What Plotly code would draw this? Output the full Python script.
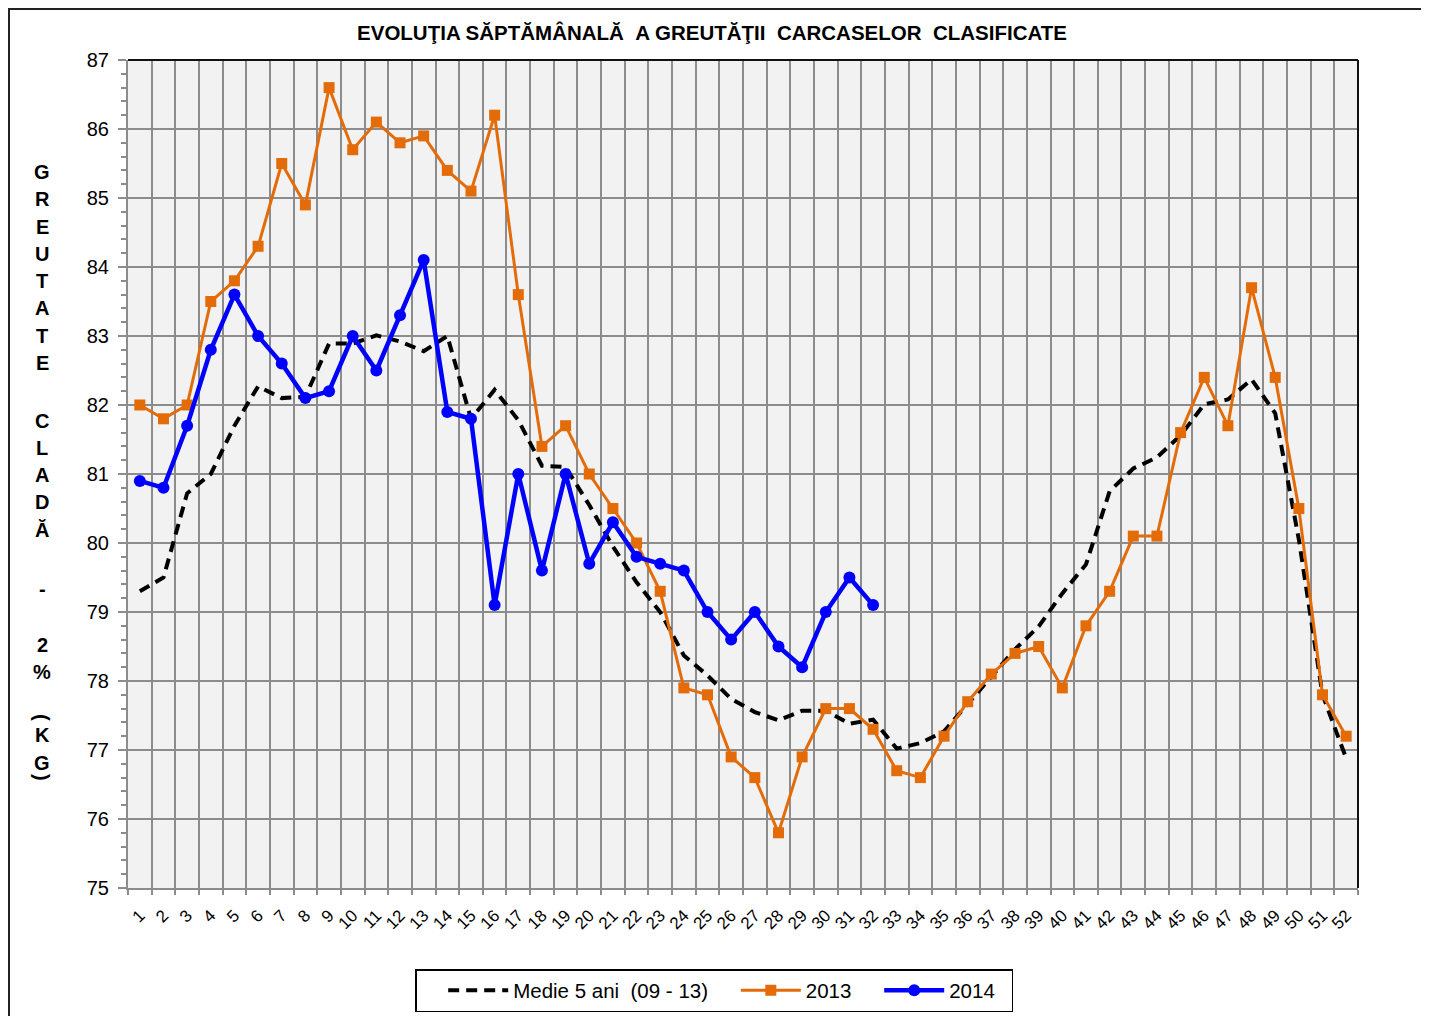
import plotly.graph_objects as go

weeks = list(range(1, 53))
week_labels = [str(w) for w in weeks]

medie = [79.3, 79.5, 80.72, 81.0, 81.7, 82.27, 82.1, 82.12, 82.89, 82.89,
         83.01, 82.92, 82.78, 83.0, 81.8, 82.22, 81.78, 81.12, 81.1, 80.55,
         79.95, 79.43, 79.0, 78.37, 78.08, 77.74, 77.55, 77.43, 77.57, 77.57,
         77.38, 77.44, 77.02, 77.1, 77.27, 77.66, 78.05, 78.46, 78.79, 79.27,
         79.69, 80.75, 81.08, 81.24, 81.56, 82.01, 82.08, 82.37, 81.88, 80.05,
         77.8, 76.88]

y2013 = [82.0, 81.8, 82.0, 83.5, 83.8, 84.3, 85.5, 84.9, 86.6, 85.7,
         86.1, 85.8, 85.9, 85.4, 85.1, 86.2, 83.6, 81.4, 81.7, 81.0,
         80.5, 80.0, 79.3, 77.9, 77.8, 76.9, 76.6, 75.8, 76.9, 77.6,
         77.6, 77.3, 76.7, 76.6, 77.2, 77.7, 78.1, 78.4, 78.5, 77.9,
         78.8, 79.3, 80.1, 80.1, 81.6, 82.4, 81.7, 83.7, 82.4, 80.5,
         77.8, 77.2]

y2014 = [80.9, 80.8, 81.7, 82.8, 83.6, 83.0, 82.6, 82.1, 82.2, 83.0,
         82.5, 83.3, 84.1, 81.9, 81.8, 79.1, 81.0, 79.6, 81.0, 79.7,
         80.3, 79.8, 79.7, 79.6, 79.0, 78.6, 79.0, 78.5, 78.2, 79.0,
         79.5, 79.1]

series_names = ["Medie 5 ani\u00a0\u00a0(09 - 13)", "2013", "2014"]

title_text = "EVOLUŢIA SĂPTĂMÂNALĂ\u00a0\u00a0A GREUTĂŢII\u00a0\u00a0CARCASELOR\u00a0\u00a0CLASIFICATE"
ylabel_chars = [("G", 172), ("R", 199), ("E", 227), ("U", 254), ("T", 281), ("A", 308),
                ("T", 336), ("E", 363), ("C", 421), ("L", 448), ("A", 475), ("D", 502),
                ("Ă", 530), ("-", 589), ("2", 645), ("%", 672), ("K", 735), ("G", 763)]
ylabel_parens = [("(", 717), (")", 777)]

FONT = "Liberation Sans, Arial, sans-serif"
ORANGE = "#E36C09"
BLUE = "#0000FF"
GRID = "#8C8C8C"

# page offset (body margin) compensation
OFF = 8
PAGE_W, PAGE_H = 1429, 1016
FIG_W, FIG_H = PAGE_W - OFF, PAGE_H - OFF

# plot area in page pixels
L, R, T, B = 128, 1358, 60, 888
W, H = R - L, B - T

def px(x):
    return (x - L) / W

def py(y):
    return (B - y) / H

PAD = "\u00a0" * 4

fig = go.Figure()
fig.add_trace(go.Scatter(
    x=weeks, y=medie, mode="lines", name=series_names[0] + PAD,
    line=dict(color="black", width=4, dash="11px,7px")))
fig.add_trace(go.Scatter(
    x=weeks, y=y2013, mode="lines+markers", name=series_names[1] + PAD,
    line=dict(color=ORANGE, width=3),
    marker=dict(symbol="square", size=11, color=ORANGE)))
fig.add_trace(go.Scatter(
    x=weeks[:len(y2014)], y=y2014, mode="lines+markers", name=series_names[2] + "\u00a0\u00a0",
    line=dict(color=BLUE, width=4.5),
    marker=dict(symbol="circle", size=12, color=BLUE)))

annotations = []
for ch, yy in ylabel_chars:
    annotations.append(dict(text="<b>%s</b>" % ch, x=px(42), y=py(yy), xref="paper", yref="paper",
                            showarrow=False, font=dict(family=FONT, size=20, color="black"),
                            xanchor="center", yanchor="middle"))
for ch, yy in ylabel_parens:
    annotations.append(dict(text="<b>%s</b>" % ch, x=px(42), y=py(yy), xref="paper", yref="paper",
                            showarrow=False, textangle=90, font=dict(family=FONT, size=20, color="black"),
                            xanchor="center", yanchor="middle"))

shapes = [
    dict(type="rect", xref="paper", yref="paper", x0=px(9), x1=px(1422), y0=py(1040), y1=py(9),
         line=dict(color="#222", width=2), fillcolor="rgba(0,0,0,0)", layer="below"),
    dict(type="line", xref="paper", yref="paper", x0=0, x1=1, y0=1, y1=1,
         line=dict(color="#111", width=2)),
    dict(type="line", xref="paper", yref="paper", x0=1, x1=1, y0=0, y1=1,
         line=dict(color="#111", width=2)),
]

fig.update_layout(
    width=FIG_W, height=FIG_H,
    margin=dict(l=L - OFF, r=PAGE_W - R, t=T - OFF, b=PAGE_H - B, autoexpand=False),
    paper_bgcolor="white", plot_bgcolor="#F2F2F2",
    font=dict(family=FONT, color="black"),
    title=dict(text="<b>%s</b>" % title_text, x=(712 - OFF) / FIG_W, xanchor="center",
               y=1 - (33 - OFF) / FIG_H, yanchor="middle",
               font=dict(family=FONT, size=20.5, color="black")),
    showlegend=True,
    legend=dict(orientation="h", x=px(714), xanchor="center", y=py(969), yanchor="top",
                bordercolor="black", borderwidth=1.5, bgcolor="white",
                font=dict(family=FONT, size=20.5, color="black"),
                title=dict(text="\u00a0\u00a0\u00a0", side="left", font=dict(size=20)),
                itemwidth=60, traceorder="normal"),
    annotations=annotations,
    shapes=shapes,
    xaxis=dict(range=[0.5, 52.5], tickmode="array", tickvals=weeks, ticktext=week_labels,
               tickangle=-45, ticks="", showgrid=False, zeroline=False, automargin=False,
               ticklabelstandoff=9,
               tickfont=dict(family=FONT, size=17, color="black"),
               showline=True, linecolor=GRID, linewidth=2,
               minor=dict(tickmode="linear", tick0=0.5, dtick=1, showgrid=True,
                          gridcolor=GRID, gridwidth=2, ticks="outside", ticklen=5,
                          tickcolor=GRID, tickwidth=2)),
    yaxis=dict(range=[75, 87], tickmode="linear", tick0=75, dtick=1, automargin=False,
               showgrid=True, gridcolor=GRID, gridwidth=2, zeroline=False,
               ticks="outside", ticklen=8, tickcolor=GRID, tickwidth=2,
               ticklabelstandoff=5,
               tickfont=dict(family=FONT, size=20, color="black"),
               showline=True, linecolor=GRID, linewidth=2,
               minor=dict(tickmode="linear", tick0=75, dtick=0.2, ticks="outside",
                          ticklen=5, tickcolor=GRID, tickwidth=2, showgrid=False)),
)

fig.write_html("out.html")
